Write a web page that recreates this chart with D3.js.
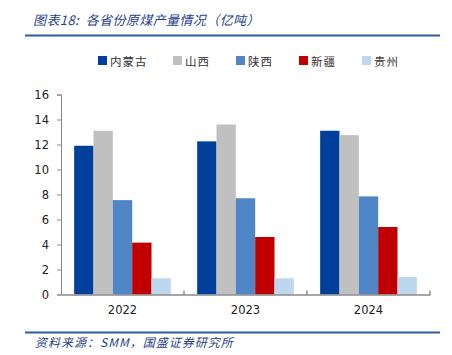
<!DOCTYPE html>
<html><head><meta charset="utf-8">
<script src="https://cdn.jsdelivr.net/npm/d3@7"></script>
<style>body{margin:0;background:#fff}svg{display:block}</style>
</head><body>
<svg id="c" width="452" height="355"></svg>
<script>
const categories = ["2022", "2023", "2024"];
const seriesNames = ["内蒙古", "山西", "陕西", "新疆", "贵州"];
const innerMongolia = [11.9, 12.25, 13.1];
const shanxi = [13.1, 13.6, 12.75];
const shaanxi = [7.55, 7.7, 7.85];
const xinjiang = [4.15, 4.6, 5.4];
const guizhou = [1.3, 1.3, 1.4];
const yTicks = [0, 2, 4, 6, 8, 10, 12, 14, 16];
const colors = ["#00409a", "#c0c0c0", "#4f86c6", "#c00000", "#bdd7ee"];
const seriesValues = [innerMongolia, shanxi, shaanxi, xinjiang, guizhou];

(function () {
const svg = d3.select("#c");
const mLeft = 61, mRight = 430, mTop = 94.5, mBottom = 294.5;
const x = d3.scaleBand().domain(categories).range([mLeft, mRight]).paddingInner(0).paddingOuter(0);
const xs = d3.scaleBand().domain(seriesNames).range([0, x.bandwidth()]).paddingOuter(0.68).paddingInner(0);
const y = d3.scaleLinear().domain([0, 16]).range([mBottom, mTop]);

// title
svg.append("text").attr("x", 33).attr("y", 25).attr("font-family", "Noto Sans CJK SC").attr("font-style", "italic")
  .attr("font-size", 13).attr("letter-spacing", 0.4).attr("fill", "#1f3f8c").text("图表18:\u00a0\u00a0各省份原煤产量情况（亿吨）");
svg.append("line").attr("x1", 25).attr("x2", 440).attr("y1", 35.5).attr("y2", 35.5).attr("stroke", "#2f5ca8").attr("stroke-width", 2);

// legend
const lx = [98, 173, 236, 299, 362];
seriesNames.forEach((n, i) => {
  svg.append("rect").attr("x", lx[i]).attr("y", 56).attr("width", 9).attr("height", 9).attr("fill", colors[i]);
  svg.append("text").attr("x", lx[i] + 12).attr("y", 65.5).attr("font-family", "Noto Sans CJK SC")
    .attr("font-size", 11.5).attr("letter-spacing", 1).attr("fill", "#333").text(n);
});

// bars
seriesNames.forEach((n, i) => {
  svg.append("g").selectAll("rect").data(categories).join("rect")
    .attr("x", d => x(d) + xs(n))
    .attr("width", xs.bandwidth())
    .attr("y", (d, j) => y(seriesValues[i][j]))
    .attr("height", (d, j) => y(0) - y(seriesValues[i][j]))
    .attr("fill", colors[i]);
});

// y axis
const ya = svg.append("g").attr("transform", `translate(${mLeft},0)`)
  .call(d3.axisLeft(y).tickValues(yTicks).tickSize(4).tickPadding(8));
ya.select(".domain").attr("stroke", "#888");
ya.selectAll(".tick line").attr("stroke", "#888");
ya.selectAll("text").attr("font-family", "DejaVu Sans").attr("font-size", 11.5).attr("fill", "#222");

// x axis
const xa = svg.append("g").attr("transform", `translate(0,${mBottom})`)
  .call(d3.axisBottom(x).tickSize(0).tickPadding(11));
xa.select(".domain").attr("stroke", "#888").attr("stroke-width", 1.5);
xa.selectAll("text").attr("font-family", "DejaVu Sans").attr("font-size", 11.5).attr("fill", "#222");
const bounds = categories.map(c => x(c) + x.bandwidth());
xa.selectAll(".btick").data(bounds).join("line").attr("class", "btick")
  .attr("x1", d => d).attr("x2", d => d).attr("y1", 0).attr("y2", -4).attr("stroke", "#555");

// footer
svg.append("line").attr("x1", 25).attr("x2", 440).attr("y1", 332.5).attr("y2", 332.5).attr("stroke", "#2f5ca8").attr("stroke-width", 2);
svg.append("text").attr("x", 35).attr("y", 347).attr("font-family", "Noto Sans CJK SC").attr("font-style", "italic")
  .attr("font-size", 12).attr("letter-spacing", 1).attr("fill", "#1f3f8c").text("资料来源：SMM，国盛证券研究所");
})();
</script>
</body></html>
